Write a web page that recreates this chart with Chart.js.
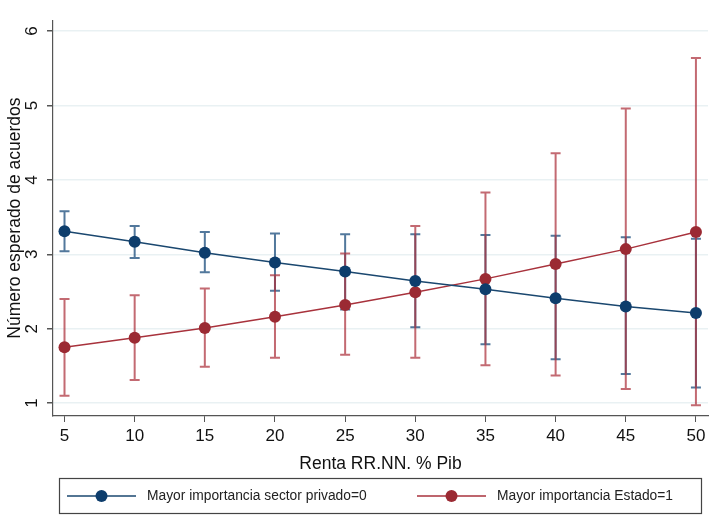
<!DOCTYPE html>
<html>
<head>
<meta charset="utf-8">
<script src="https://cdn.jsdelivr.net/npm/chart.js@4"></script>
<style>
  html, body { margin: 0; padding: 0; background: #fff; }
  #wrap { width: 721px; height: 519px; }
</style>
</head>
<body>
<div id="wrap"><canvas id="c"></canvas></div>
<script>
// data
const xs = [5, 10, 15, 20, 25, 30, 35, 40, 45, 50];
const yTicks = [1, 2, 3, 4, 5, 6];

const privado = [3.31, 3.17, 3.02, 2.89, 2.77, 2.64, 2.53, 2.41, 2.30, 2.21];
const privadoLo = [3.04, 2.95, 2.76, 2.51, 2.26, 2.02, 1.79, 1.59, 1.39, 1.21];
const privadoHi = [3.58, 3.38, 3.30, 3.28, 3.27, 3.27, 3.26, 3.25, 3.23, 3.21];

const estado = [1.75, 1.88, 2.01, 2.16, 2.32, 2.49, 2.67, 2.87, 3.07, 3.30];
const estadoLo = [1.10, 1.31, 1.49, 1.61, 1.65, 1.61, 1.51, 1.37, 1.19, 0.97];
const estadoHi = [2.40, 2.45, 2.54, 2.72, 3.01, 3.38, 3.83, 4.36, 4.96, 5.64];

const BLUE = "#1a476f", BLUE_BAR = "rgba(33,82,128,0.78)";
const RED = "#9b2a33", RED_BAR = "rgba(172,48,60,0.72)";
const FONT = "'Liberation Sans', Arial, sans-serif";

const pts = (vals) => xs.map((x, i) => ({ x, y: vals[i] }));

// vertical CI bars with caps, placed through the chart scales
const errorBars = {
  id: "errorBars",
  beforeDatasetsDraw(chart) {
    const { ctx, scales: { x, y } } = chart;
    const sets = [
      { lo: privadoLo, hi: privadoHi, color: BLUE_BAR },
      { lo: estadoLo, hi: estadoHi, color: RED_BAR },
    ];
    ctx.save();
    ctx.lineWidth = 2;
    sets.forEach((s) => {
      ctx.strokeStyle = s.color;
      xs.forEach((v, i) => {
        const px = x.getPixelForValue(v);
        const top = y.getPixelForValue(s.hi[i]);
        const bot = y.getPixelForValue(s.lo[i]);
        ctx.beginPath();
        ctx.moveTo(px, top); ctx.lineTo(px, bot);
        ctx.moveTo(px - 5, top); ctx.lineTo(px + 5, top);
        ctx.moveTo(px - 5, bot); ctx.lineTo(px + 5, bot);
        ctx.stroke();
      });
    });
    ctx.restore();
  },
};

// stata-style legend box under the axis
const boxLegend = {
  id: "boxLegend",
  afterDraw(chart) {
    const ctx = chart.ctx;
    const items = [
      { x0: 67, tx: 147 },
      { x0: 417, tx: 497 },
    ];
    ctx.save();
    ctx.strokeStyle = "#444";
    ctx.lineWidth = 1.2;
    ctx.strokeRect(59.5, 478.5, 642, 35);
    const cy = 496;
    chart.data.datasets.forEach((ds, i) => {
      const it = items[i];
      ctx.strokeStyle = ds.borderColor;
      ctx.lineWidth = 1.5;
      ctx.beginPath();
      ctx.moveTo(it.x0, cy); ctx.lineTo(it.x0 + 69, cy);
      ctx.stroke();
      ctx.fillStyle = ds.pointBackgroundColor;
      ctx.beginPath();
      ctx.arc(it.x0 + 34.5, cy, 6, 0, Math.PI * 2);
      ctx.fill();
      ctx.fillStyle = "#222";
      ctx.font = "13.8px " + FONT;
      ctx.textBaseline = "middle";
      ctx.fillText(ds.label, it.tx, cy + 0.5);
    });
    ctx.restore();
  },
};

new Chart(document.getElementById("c"), {
  type: "line",
  data: {
    datasets: [
      {
        label: "Mayor importancia sector privado=0",
        data: pts(privado),
        borderColor: BLUE,
        borderWidth: 1.5,
        pointBackgroundColor: "#0d3d6c",
        pointBorderWidth: 0,
        pointRadius: 6,
      },
      {
        label: "Mayor importancia Estado=1",
        data: pts(estado),
        borderColor: "#a8323c",
        borderWidth: 1.5,
        pointBackgroundColor: RED,
        pointBorderWidth: 0,
        pointRadius: 6,
      },
    ],
  },
  options: {
    responsive: true,
    maintainAspectRatio: false,
    animation: false,
    layout: { padding: { top: 17, right: 13, bottom: 40, left: 0 } },
    plugins: { legend: { display: false }, tooltip: { enabled: false } },
    scales: {
      x: {
        type: "linear",
        min: 4.18,
        max: 50.86,
        afterBuildTicks: (s) => { s.ticks = xs.map((v) => ({ value: v })); },
        afterFit: (s) => { s.height = 63; },
        grid: { drawOnChartArea: false, tickColor: "#555", tickLength: 6 },
        border: { color: "#555", width: 1.2 },
        ticks: { color: "#111", padding: 4, font: { family: FONT, size: 17 } },
        title: {
          display: true,
          text: "Renta RR.NN. % Pib",
          color: "#111",
          padding: { top: 4, bottom: 4 },
          font: { family: FONT, size: 17.5 },
        },
      },
      y: {
        min: 0.827,
        max: 6.147,
        afterBuildTicks: (s) => { s.ticks = yTicks.map((v) => ({ value: v })); },
        afterFit: (s) => { s.width = 53; },
        grid: { color: "#e9f1f3", lineWidth: 1.5, tickColor: "#555", tickLength: 6 },
        border: { color: "#555", width: 1.2 },
        ticks: {
          color: "#111",
          minRotation: 90,
          maxRotation: 90,
          crossAlign: "center",
          padding: 10,
          font: { family: FONT, size: 17 },
        },
        title: {
          display: true,
          text: "Número esperado de acuerdos",
          color: "#111",
          padding: { top: 5, bottom: 0 },
          font: { family: FONT, size: 17.5 },
        },
      },
    },
  },
  plugins: [errorBars, boxLegend],
});
</script>
</body>
</html>
